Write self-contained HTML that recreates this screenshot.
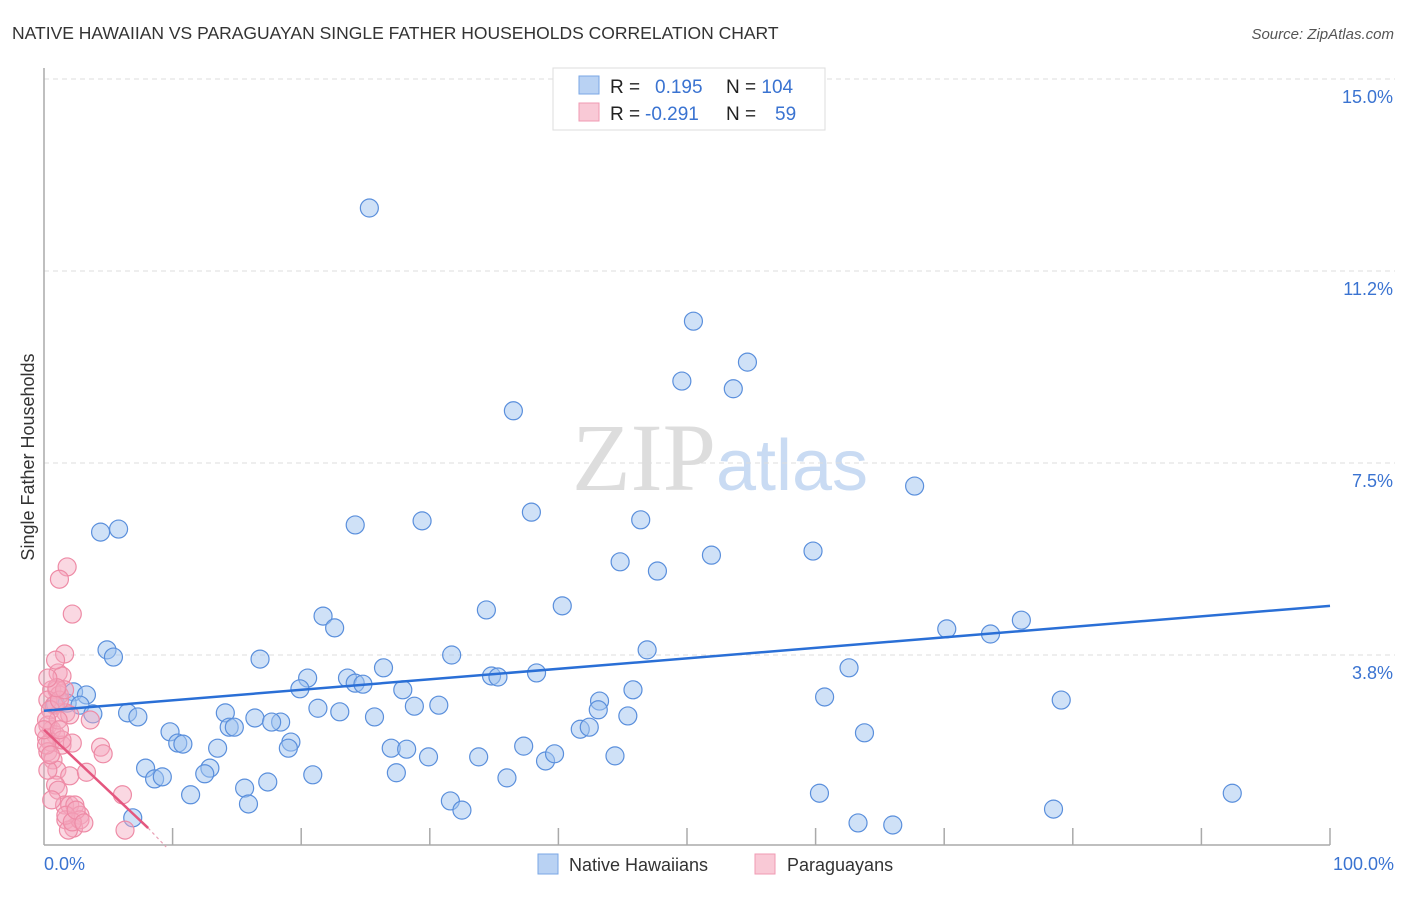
<!DOCTYPE html>
<html><head><meta charset="utf-8"><style>
body{margin:0;background:#fff;font-family:"Liberation Sans",sans-serif;}
svg text{font-family:"Liberation Sans",sans-serif;}
</style></head><body>
<svg id="chart" width="1406" height="892" xmlns="http://www.w3.org/2000/svg">
<text x="12" y="39" font-size="17.5" fill="#333">NATIVE HAWAIIAN VS PARAGUAYAN SINGLE FATHER HOUSEHOLDS CORRELATION CHART</text>
<text x="1394" y="39" font-size="15" fill="#555" text-anchor="end" font-style="italic">Source: ZipAtlas.com</text>
<text x="720" y="490" text-anchor="middle" font-size="96"><tspan font-family="Liberation Serif,serif" fill="#ddd">ZIP</tspan><tspan fill="#c9dbf3" font-size="72">atlas</tspan></text>
<g id="grid"></g>
<g id="axes"></g>
<g id="pts"></g>
<g id="trends"></g>
<text transform="translate(34,457) rotate(-90)" text-anchor="middle" font-size="18" fill="#333">Single Father Households</text>
<text x="44" y="870" font-size="18" fill="#3a73d1">0.0%</text>
<text x="1394" y="870" font-size="18" fill="#3a73d1" text-anchor="end">100.0%</text>
<g>
<rect x="553" y="68" width="272" height="62" fill="#fff" stroke="#ddd"/>
<rect x="579" y="76" width="20" height="18" fill="#b9d2f3" stroke="#7aa7e6"/>
<rect x="579" y="103" width="20" height="18" fill="#f9c9d6" stroke="#f09ab3"/>
<text x="610" y="93" font-size="19" fill="#222">R = <tspan fill="#3a73d1" x="655">0.195</tspan><tspan x="726">N = </tspan><tspan fill="#3a73d1">104</tspan></text>
<text x="610" y="120" font-size="19" fill="#222">R = <tspan fill="#3a73d1" x="645">-0.291</tspan><tspan x="726">N = </tspan><tspan fill="#3a73d1" x="775">59</tspan></text>
</g>
<g>
<rect x="538" y="854" width="20" height="20" fill="#b9d2f3" stroke="#7aa7e6"/>
<text x="569" y="871" font-size="18" fill="#333">Native Hawaiians</text>
<rect x="755" y="854" width="20" height="20" fill="#f9c9d6" stroke="#f09ab3"/>
<text x="787" y="871" font-size="18" fill="#333">Paraguayans</text>
</g>
</svg>
<script>
const yTicks=[15.0,11.25,7.5,3.75];
const yTickLabels=["15.0%","11.2%","7.5%","3.8%"];
const xTicks=[10,20,30,40,50,60,70,80,90,100];
const blueX=[25.3,50.5,54.7,49.6,53.6,36.5,67.7,4.4,5.8,24.2,29.4,37.9,46.4,51.9,59.8,44.8,47.7,34.4,40.3,21.7,22.6,70.2,73.6,76.0,4.9,5.4,16.8,31.7,46.9,26.4,62.6,20.5,23.6,24.2,24.8,34.8,35.3,38.3,19.9,27.9,45.8,2.3,3.3,0.9,1.8,2.8,3.8,6.5,7.3,21.3,23.0,28.8,30.7,43.2,43.1,60.7,79.1,14.1,16.4,18.4,17.7,25.7,45.4,14.4,14.8,41.7,42.4,9.8,10.4,10.8,13.5,19.2,19.0,27.0,28.2,29.9,37.3,33.8,39.0,39.7,44.4,63.8,7.9,12.9,8.6,9.2,12.5,17.4,20.9,27.4,36.0,15.6,11.4,15.9,31.6,32.5,60.3,92.4,78.5,63.3,66.0,6.9];
const blueY=[12.48,10.27,9.47,9.10,8.95,8.52,7.05,6.15,6.21,6.29,6.37,6.54,6.39,5.70,5.78,5.57,5.39,4.63,4.71,4.51,4.28,4.26,4.16,4.43,3.85,3.71,3.67,3.75,3.85,3.50,3.50,3.30,3.30,3.20,3.18,3.34,3.32,3.40,3.09,3.07,3.07,3.03,2.97,2.79,2.81,2.77,2.60,2.62,2.54,2.71,2.64,2.75,2.77,2.85,2.68,2.93,2.87,2.62,2.52,2.44,2.44,2.54,2.56,2.34,2.34,2.30,2.34,2.25,2.03,2.01,1.93,2.05,1.93,1.93,1.91,1.76,1.97,1.76,1.68,1.82,1.78,2.23,1.54,1.54,1.33,1.37,1.43,1.27,1.41,1.45,1.35,1.15,1.02,0.84,0.90,0.72,1.05,1.05,0.74,0.47,0.43,0.57];
const pinkX=[1.8,1.2,2.2,1.6,1.1,1.4,0.6,1.0,1.2,0.3,0.8,0.5,1.7,2.0,3.6,0.3,0.6,0.9,0.2,0.5,1.4,2.2,4.4,4.6,0.3,0.7,1.0,2.0,3.3,0.9,1.1,1.6,2.0,2.4,2.8,1.7,2.3,1.9,2.8,6.1,6.3,1.1,0.2,1.4,0.3,0.6,1.2,1.6,0.9,0.2,0.5,0.0,1.2,1.7,2.2,2.5,3.1,1.0,0.3];
const pinkY=[5.47,5.23,4.55,3.77,3.40,3.34,3.07,3.07,2.97,2.87,2.77,2.68,2.62,2.58,2.48,2.38,2.29,2.19,2.13,2.05,1.99,2.03,1.95,1.82,1.86,1.70,1.50,1.39,1.46,1.21,1.11,0.82,0.82,0.82,0.62,0.53,0.37,0.33,0.53,1.02,0.33,2.48,2.48,2.09,1.50,0.92,2.87,3.07,3.65,1.99,1.80,2.29,2.29,0.62,0.49,0.72,0.47,3.11,3.30];
const blueTrend=[[0,2.66],[100,4.71]];
const pinkTrend=[[0,2.29],[8.1,0.37]];
const pinkTrendExt=[[8.1,0.37],[9.5,0.0]];
const NS="http://www.w3.org/2000/svg";
const X0=44,X1=1330,Y0=847,PPY=51.2;
function sx(v){return X0+(X1-X0)*v/100;}
function sy(v){return Y0-v*PPY;}
function mk(tag,attrs,parent){const e=document.createElementNS(NS,tag);for(const k in attrs)e.setAttribute(k,attrs[k]);parent.appendChild(e);return e;}
const grid=document.getElementById('grid'),axes=document.getElementById('axes'),pts=document.getElementById('pts'),tr=document.getElementById('trends');
yTicks.forEach((t,i)=>{
 const l=mk('line',{x1:X0,x2:1395,y1:sy(t),y2:sy(t),stroke:'#ddd','stroke-dasharray':'5,4'},grid);
 
 
 const tx=mk('text',{x:1393,y:sy(t)+24,'font-size':18,fill:'#3a73d1','text-anchor':'end'},grid);
 tx.textContent=yTickLabels[i];
 
 
});
const ya=mk('line',{x1:X0,x2:X0,y1:68,y2:845,stroke:'#aaa','stroke-width':1.5},axes);


const xa=mk('line',{x1:X0,x2:1330,y1:845,y2:845,stroke:'#aaa','stroke-width':1.5},axes);


xTicks.forEach(t=>{
 const l=mk('line',{x1:sx(t),x2:sx(t),y1:828,y2:845,stroke:'#aaa','stroke-width':1.5},axes);
 
 
});
blueX.forEach((x,i)=>{
 const c=mk('circle',{cx:sx(x),cy:sy(blueY[i]),r:9,fill:'rgba(160,196,240,0.5)',stroke:'#5a8fdc','stroke-width':1.2},pts);
 
 
});
pinkX.forEach((x,i)=>{
 const c=mk('circle',{cx:sx(x),cy:sy(pinkY[i]),r:9,fill:'rgba(244,168,190,0.45)',stroke:'#ee8ba6','stroke-width':1.2},pts);
 
 
});
const bl=mk('line',{x1:sx(blueTrend[0][0]),y1:sy(blueTrend[0][1]),x2:sx(blueTrend[1][0]),y2:sy(blueTrend[1][1]),stroke:'#2a6fd6','stroke-width':2.5},tr);


const pl=mk('line',{x1:sx(pinkTrend[0][0]),y1:sy(pinkTrend[0][1]),x2:sx(pinkTrend[1][0]),y2:sy(pinkTrend[1][1]),stroke:'#e4577f','stroke-width':2.5},tr);


const pe=mk('line',{x1:sx(pinkTrendExt[0][0]),y1:sy(pinkTrendExt[0][1]),x2:sx(pinkTrendExt[1][0]),y2:sy(pinkTrendExt[1][1]),stroke:'#e9a0b5','stroke-width':1.2,'stroke-dasharray':'3,3'},tr);


</script>
</body></html>
